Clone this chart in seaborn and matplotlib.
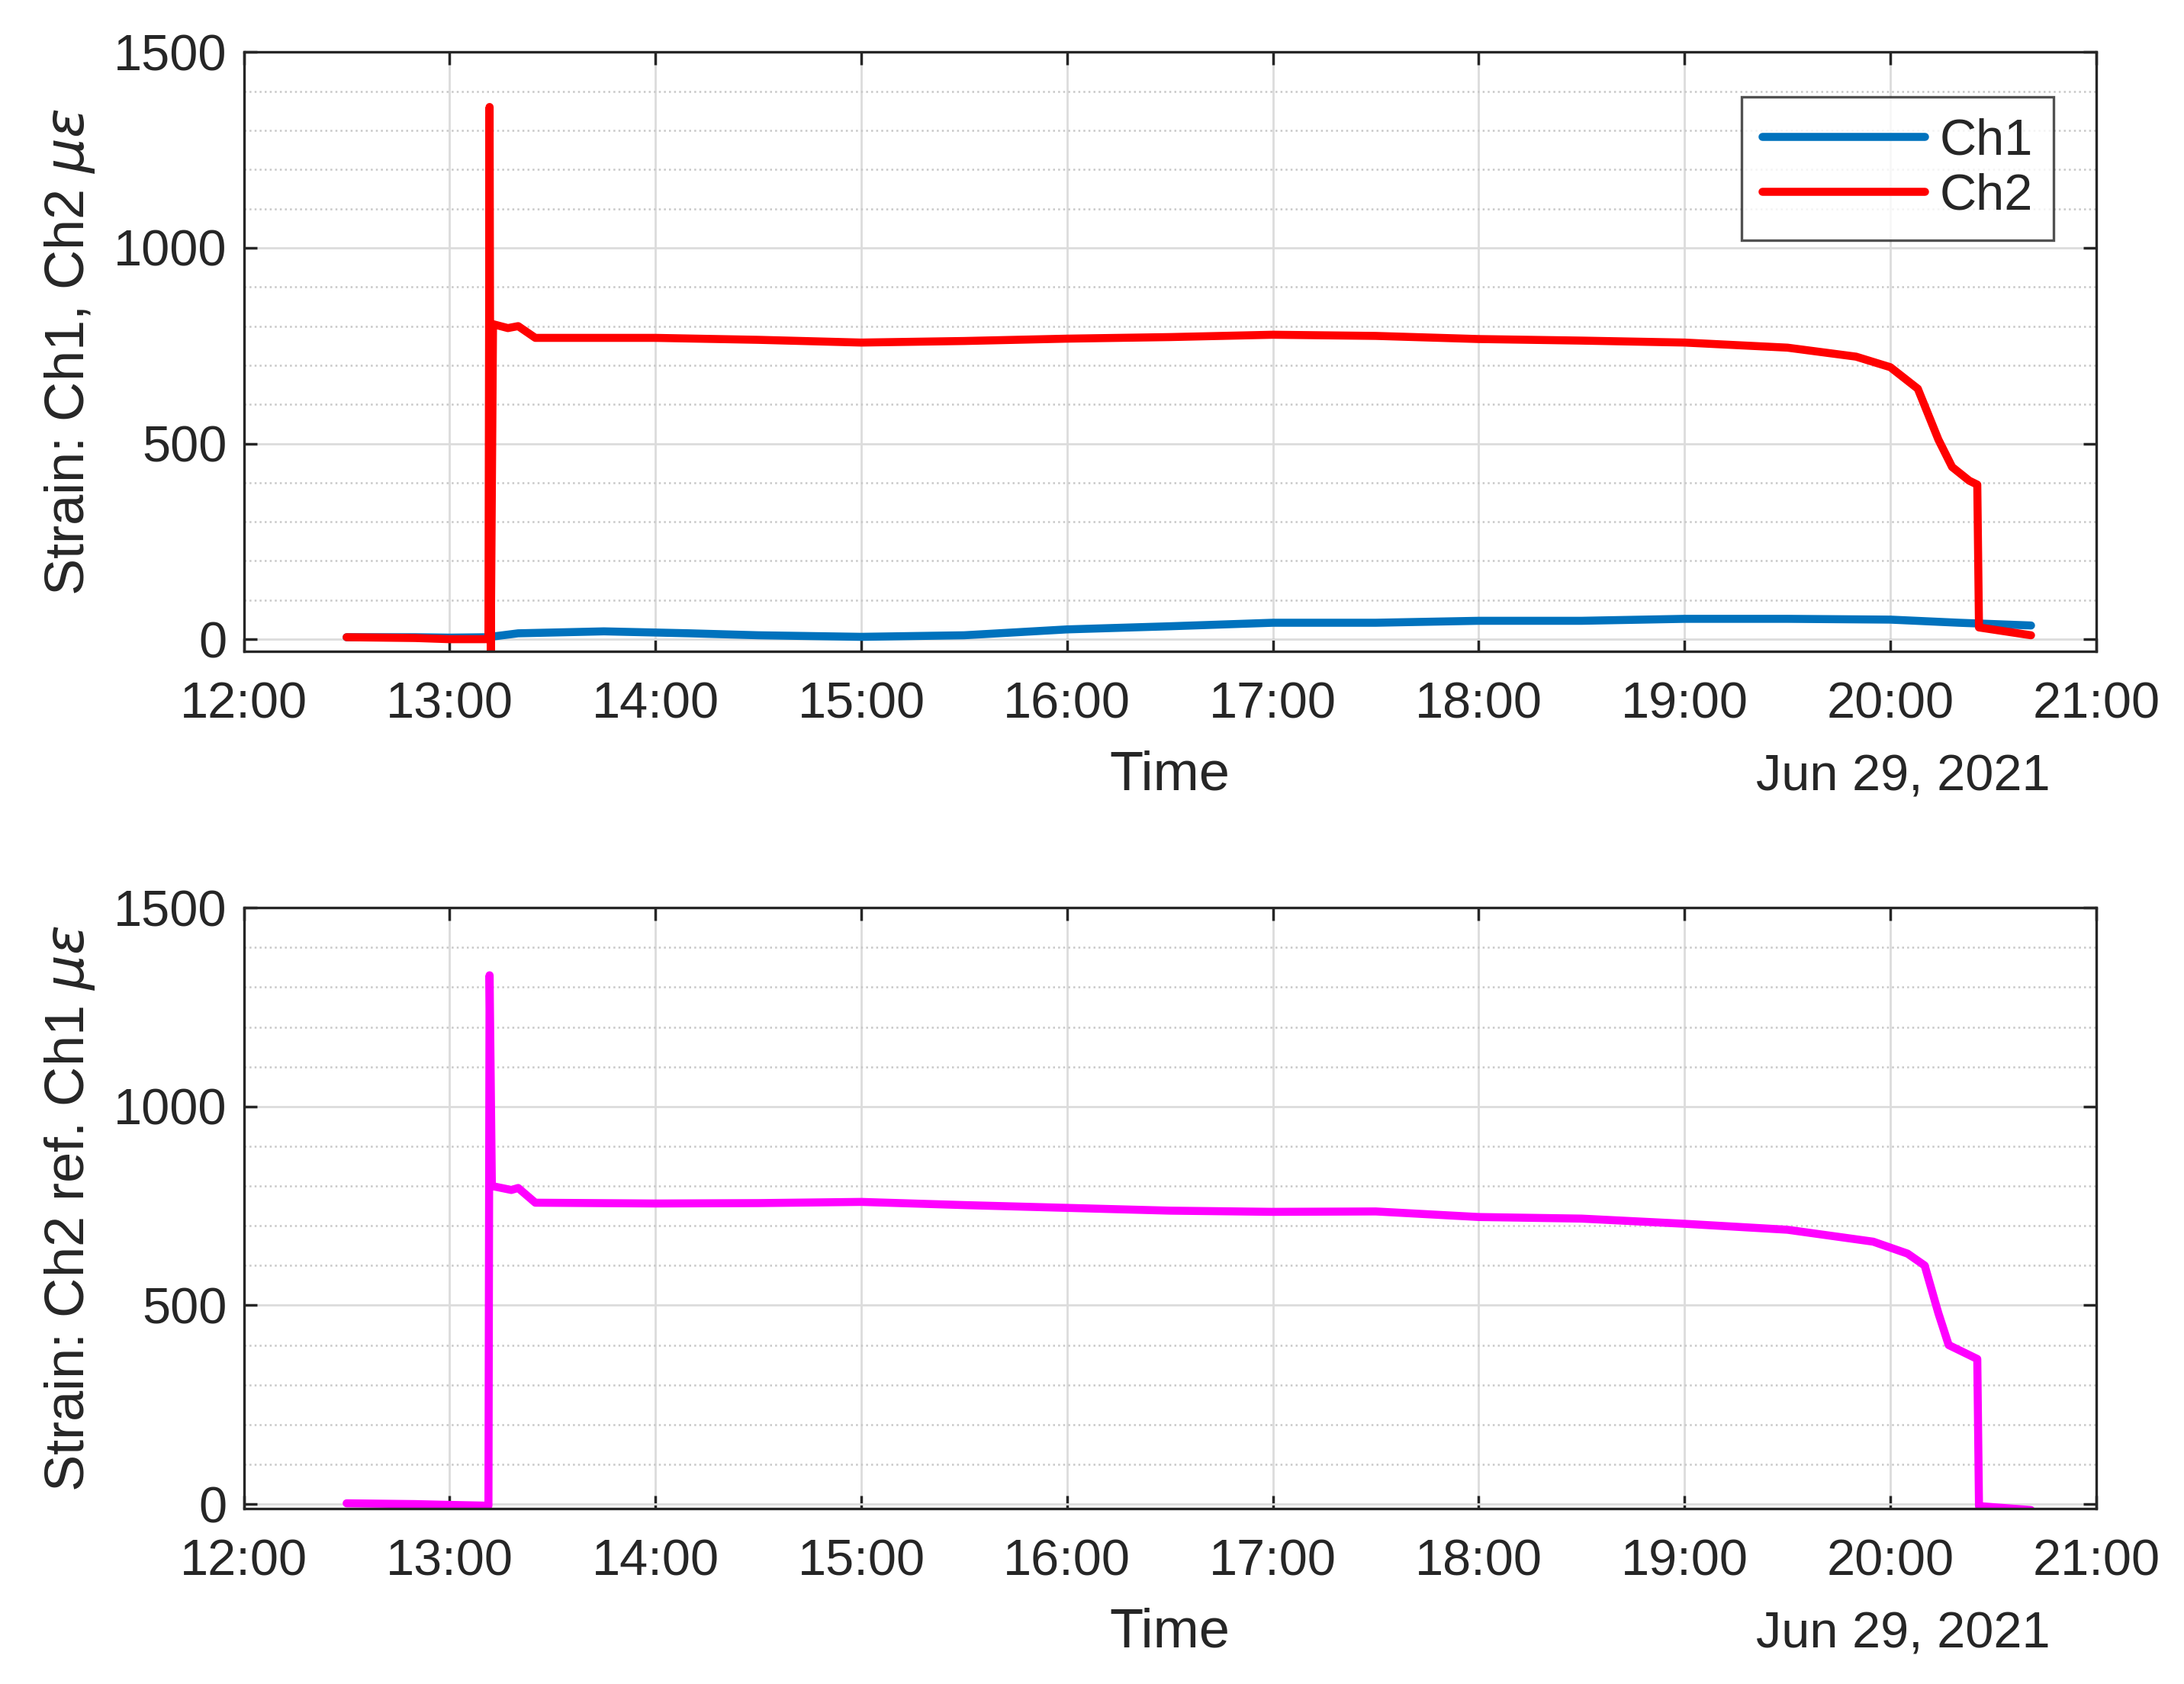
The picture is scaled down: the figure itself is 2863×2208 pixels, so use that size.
import pandas as pd
import matplotlib.pyplot as plt
import matplotlib.dates as mdates
import seaborn as sns

# time (HH:MM:SS on Jun 29, 2021) and strain values
ch1_time = ["12:30", "12:50", "13:00", "13:11", "13:20", "13:45", "14:10", "14:30", "15:00",
            "15:30", "16:00", "16:30", "17:00", "17:30", "18:00", "18:30", "19:00", "19:30",
            "20:00", "20:20", "20:41"]
ch1_vals = [5, 5, 4, 5, 15, 20, 15, 10, 6, 10, 25, 33, 42, 42, 47, 47, 52, 52, 50, 42, 35]

ch2_time = ["12:30", "12:50", "13:00", "13:11:20", "13:11:40", "13:12:00", "13:12:40", "13:17",
            "13:20", "13:25", "14:00", "14:30", "15:00", "15:30", "16:00", "16:30", "17:00",
            "17:30", "18:00", "18:30", "19:00", "19:30", "19:50", "20:00", "20:08", "20:14",
            "20:18", "20:23", "20:25:20", "20:25:50", "20:41"]
ch2_vals = [5, 3, 0, 0, 1360, -30, 805, 795, 800, 770, 770, 765, 758, 762, 768, 772, 778,
            775, 767, 763, 758, 745, 722, 695, 640, 510, 440, 405, 395, 30, 10]

ref_time = ["12:30", "12:50", "13:00", "13:11:20", "13:11:40", "13:12:20", "13:18", "13:20",
            "13:25", "14:00", "14:30", "15:00", "15:30", "16:00", "16:30", "17:00", "17:30",
            "18:00", "18:30", "19:00", "19:30", "19:55", "20:05", "20:10", "20:14", "20:17",
            "20:25:20", "20:25:50", "20:41"]
ref_vals = [2, 0, -2, -4, 1330, 800, 790, 795, 758, 756, 757, 760, 752, 745, 738, 735, 736,
            722, 718, 705, 690, 660, 630, 600, 480, 400, 365, -5, -15]

date = "2021-06-29 "
def frame(times, vals, name):
    t = pd.to_datetime([date + (s if s.count(":") == 2 else s + ":00") for s in times])
    return pd.DataFrame({"Time": t, "Strain": vals, "Channel": name})

top = pd.concat([frame(ch1_time, ch1_vals, "Ch1"), frame(ch2_time, ch2_vals, "Ch2")])
bot = frame(ref_time, ref_vals, "ref")

sns.set_theme(style="white")
plt.rcParams["font.family"] = ["Liberation Sans", "DejaVu Sans"]
plt.rcParams["font.size"] = 24

fig = plt.figure(figsize=(14.315, 11.04), dpi=200)
ax1 = fig.add_axes([0.1116, 0.613, 0.8482, 0.356])
ax2 = fig.add_axes([0.1116, 0.104, 0.8482, 0.357])

sns.lineplot(data=top, x="Time", y="Strain", hue="Channel", ax=ax1, sort=False,
             palette={"Ch1": "#0072BD", "Ch2": "#FF0000"}, linewidth=3.8, estimator=None)
sns.lineplot(data=bot, x="Time", y="Strain", ax=ax2, sort=False, color="#FF00FF",
             linewidth=3.8, estimator=None)

for ax, lab, ylo in [(ax1, r"Strain: Ch1, Ch2 $\mu\epsilon$", -32),
                     (ax2, r"Strain: Ch2 ref. Ch1 $\mu\epsilon$", -12)]:
    ax.set_xlim(pd.Timestamp(date + "12:00"), pd.Timestamp(date + "21:00"))
    ax.set_ylim(ylo, 1500)
    ax.set_yticks([0, 500, 1000, 1500])
    ax.set_yticks(range(100, 1500, 100), minor=True)
    ax.xaxis.set_major_locator(mdates.HourLocator())
    ax.xaxis.set_major_formatter(mdates.DateFormatter("%H:%M"))
    ax.grid(True, which="major", color="#dcdcdc", linewidth=1)
    ax.grid(True, which="minor", axis="y", color="#c8c8c8", linestyle=":", linewidth=0.9)
    ax.tick_params(which="both", direction="in", labelsize=24, length=6, color="#262626",
                   top=True, right=True, left=True, bottom=True)
    ax.tick_params(axis="x", pad=14)
    ax.tick_params(axis="y", pad=8)
    ax.tick_params(which="minor", length=0)
    for s in ax.spines.values():
        s.set_color("#262626")
        s.set_linewidth(1.2)
    ax.set_xlabel("Time", fontsize=26, labelpad=10)
    ax.set_ylabel(lab, fontsize=26, labelpad=8)
    ax.text(0.975, -0.21, "Jun 29, 2021", transform=ax.transAxes, ha="right",
            va="center", fontsize=24)

leg = ax1.legend(loc="upper right", fontsize=24, frameon=True, fancybox=False,
                 edgecolor="#262626", handlelength=3.2, borderaxespad=0,
                 handletextpad=0.3, labelspacing=0.15, bbox_to_anchor=(0.977, 0.925))
leg.get_frame().set_linewidth(1.2)

fig.savefig("out.png", dpi=200, facecolor="white")
